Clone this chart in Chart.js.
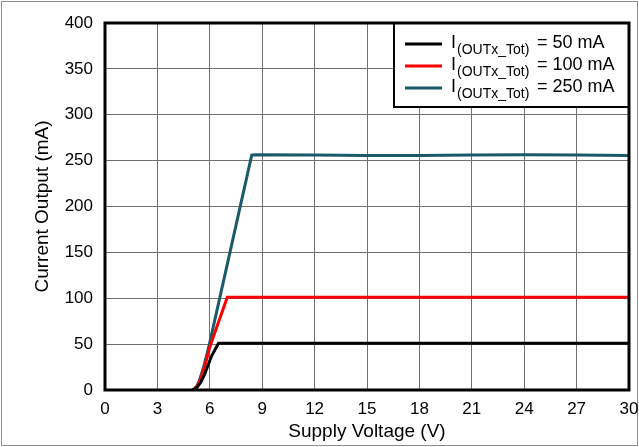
<!DOCTYPE html>
<html lang="en">
<head>
<meta charset="UTF-8">
<script src="https://cdn.jsdelivr.net/npm/chart.js"></script>
<title>Current Output vs Supply Voltage</title>
<style>
  html, body { margin: 0; padding: 0; background: #fff; }
  #wrap { width: 639px; height: 447px; }
</style>
</head>
<body>
<div id="wrap"><canvas id="chart" width="639" height="447"></canvas></div>
<script>
// Supply voltage (V) and output current (mA) for each load setting
const volts50 = [5.0, 5.15, 5.3, 5.5, 5.7, 5.9, 6.1, 6.5, 9, 12, 15, 18, 21, 24, 27, 30];
const amps50  = [0,   1,    3.5, 9,   17,  27,  37,  51,  51, 51, 51, 51, 51, 51, 51, 51];

const volts100 = [5.0, 5.15, 5.3, 5.45, 5.6, 5.8, 6.0, 7.0, 9,   12,  15,  18,  21,  24,  27,  30];
const amps100  = [0,   1.5,  5,   11,   19,  32,  47,  101, 101, 101, 101, 101, 101, 101, 101, 101];

const volts250 = [5.0, 5.1, 5.25, 5.4, 5.55, 5.7, 5.85, 6.0, 8.4, 8.6,   12,  15,    18,    21,  24,    27,  30];
const amps250  = [0,   1,   4,    10,  19,   29,  40,   52,  256, 256.5, 256, 255.5, 255.5, 256, 256.5, 256, 255.5];

const seriesNames = ['= 50 mA', '= 100 mA', '= 250 mA'];
const seriesColors = ['#000000', '#ff0000', '#1b5a68'];

const xTicks = [0, 3, 6, 9, 12, 15, 18, 21, 24, 27, 30];
const yTicks = [0, 50, 100, 150, 200, 250, 300, 350, 400];

function pts(xs, ys) { return xs.map((x, i) => ({ x: x, y: ys[i] })); }

const font = "'Liberation Sans', Arial, sans-serif";

// frame around the plot, outer gray border and the legend box
const decor = {
  id: 'decor',
  beforeDraw(chart) {
    const c = chart.ctx;
    c.save();
    c.fillStyle = '#fff';
    c.fillRect(0, 0, chart.width, chart.height);
    c.strokeStyle = '#8c8c8c';
    c.lineWidth = 1;
    c.strokeRect(1.5, 1.5, chart.width - 3, chart.height - 3);
    c.restore();
  },
  afterDraw(chart) {
    const c = chart.ctx;
    const a = chart.chartArea;
    c.save();
    // legend
    const lx = 394, ly = a.top, lw = a.right - 394, lh = 84;
    c.fillStyle = '#fff';
    c.fillRect(lx, ly, lw, lh);
    c.strokeStyle = '#000';
    c.lineWidth = 2;
    c.strokeRect(lx, ly, lw, lh);
    const rows = [44, 66, 88];
    seriesNames.forEach((name, i) => {
      const y = rows[i];
      c.strokeStyle = seriesColors[i];
      c.lineWidth = 3;
      c.beginPath();
      c.moveTo(405, y);
      c.lineTo(442, y);
      c.stroke();
      c.fillStyle = '#000';
      c.textBaseline = 'alphabetic';
      c.textAlign = 'left';
      c.font = '18px ' + font;
      c.fillText('I', 451, y + 4);
      c.font = '14px ' + font;
      c.fillText('(OUTx_Tot)', 457, y + 10);
      c.font = '18px ' + font;
      c.fillText(name, 537, y + 4);
    });
    // plot frame
    c.strokeStyle = '#000';
    c.lineWidth = 3;
    c.strokeRect(a.left, a.top, a.right - a.left, a.bottom - a.top);
    c.restore();
  }
};

new Chart(document.getElementById('chart'), {
  type: 'scatter',
  data: {
    datasets: [
      { data: pts(volts50, amps50) },
      { data: pts(volts100, amps100) },
      { data: pts(volts250, amps250) }
    ].map((d, i) => Object.assign(d, {
      label: 'I(OUTx_Tot) ' + seriesNames[i],
      showLine: true,
      borderColor: seriesColors[i],
      backgroundColor: seriesColors[i],
      borderWidth: 3,
      pointRadius: 0,
      tension: 0
    }))
  },
  options: {
    responsive: false,
    animation: false,
    layout: { padding: { left: 0, right: 10, top: 23, bottom: 0 } },
    plugins: { legend: { display: false }, tooltip: { enabled: false } },
    scales: {
      x: {
        type: 'linear',
        min: 0, max: 30,
        afterBuildTicks(s) { s.ticks = xTicks.map(v => ({ value: v })); },
        afterFit(s) { s.height = 57; s.paddingLeft = 0; s.paddingRight = 0; },
        grid: { color: '#707070', lineWidth: 1, drawTicks: false },
        border: { display: false },
        ticks: { color: '#000', font: { family: font, size: 17 }, padding: 9, maxRotation: 0 },
        title: { display: true, text: 'Supply Voltage (V)', color: '#000',
                 font: { family: font, size: 19 }, padding: { top: 0, bottom: 4 } }
      },
      y: {
        min: 0, max: 400,
        afterBuildTicks(s) { s.ticks = yTicks.map(v => ({ value: v })); },
        afterFit(s) { s.width = 105; s.paddingTop = 0; s.paddingBottom = 0; },
        grid: { color: '#707070', lineWidth: 1, drawTicks: false },
        border: { display: false },
        ticks: { color: '#000', font: { family: font, size: 17 }, padding: 12 },
        title: { display: true, text: 'Current Output (mA)', color: '#000',
                 font: { family: font, size: 19 }, padding: { top: 31, bottom: 0 } }
      }
    }
  },
  plugins: [decor]
});
</script>
</body>
</html>
